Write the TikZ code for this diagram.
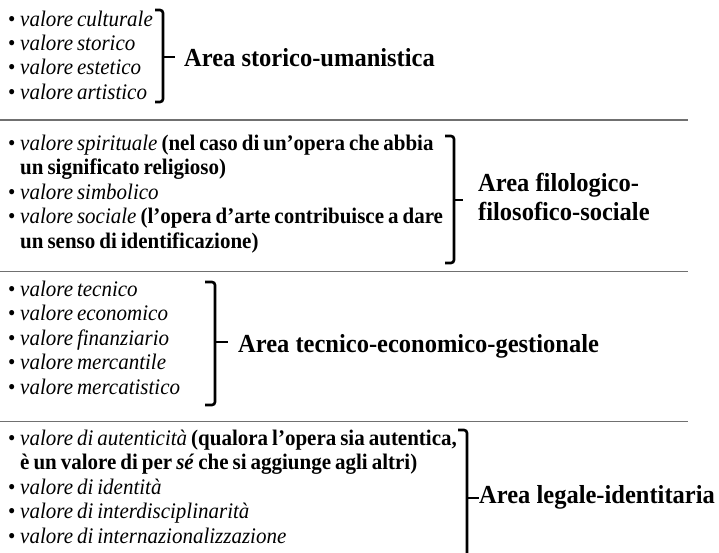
\documentclass[tikz,border=0pt]{standalone}
\usepackage{fontspec}
\setmainfont{Liberation Serif}
\definecolor{rulegray}{HTML}{707070}
\newcommand{\bul}{\makebox[12pt][l]{•}}
\newcommand{\tightsp}{\spaceskip=0.19em plus 0.05em minus 0.02em\relax}
\newcommand{\tallx}[1]{\scalebox{1}[1.06]{\tightsp#1}}
\tikzset{
  itm/.style={anchor=mid west, inner sep=0pt, font=\fontsize{21}{25}\selectfont},
  lbl/.style={anchor=west, inner sep=0pt, align=left, font=\fontsize{24.5}{29}\selectfont\bfseries},
  seprule/.style={draw=rulegray, line width=1.5pt},
  brk/.style={line width=2.6pt, rounded corners=3pt}
}
\begin{document}
\begin{tikzpicture}[x=1pt,y=-1pt]
\useasboundingbox[fill=white] (0,0) rectangle (719,553);

% separators
\draw[seprule] (0,120) -- (688,120);
\draw[seprule] (0,271.5) -- (688,271.5);
\draw[seprule] (0,421.5) -- (688,421.5);

% section 1
\node[itm] (a1) at (8,24) {\tallx{\bul\textit{valore culturale}}};
\node[itm] (a2) at (8,48) {\tallx{\bul\textit{valore storico}}};
\node[itm] (a3) at (8,72.5) {\tallx{\bul\textit{valore estetico}}};
\node[itm] (a4) at (8,97) {\tallx{\bul\textit{valore artistico}}};
\draw[brk] (155,10) -- (163,10) -- (163,102) -- (155,102);
\draw[brk] (163,57) -- (175,57);
\node[lbl] (la) at (184,58) {\scalebox{1}[1.06]{Area storico-umanistica}};

% section 2
\node[itm] (b1) at (8,148) {\tallx{\bul\textit{valore spirituale} \textbf{(nel caso di un’opera che abbia}}};
\node[itm] (b2) at (20,172.5) {\tallx{\textbf{un significato religioso)}}};
\node[itm] (b3) at (8,197) {\tallx{\bul\textit{valore simbolico}}};
\node[itm] (b4) at (8,221.5) {\tallx{\bul\textit{valore sociale} \textbf{(l’opera d’arte contribuisce a dare}}};
\node[itm] (b5) at (20,246) {\tallx{\textbf{un senso di identificazione)}}};
\draw[brk] (445,136) -- (454,136) -- (454,263) -- (445,263);
\draw[brk] (454,200) -- (463,200);
\node[lbl] (lb) at (478,197) {\scalebox{1}[1.06]{Area filologico-}\\\scalebox{1}[1.06]{filosofico-sociale}};

% section 3
\node[itm] (c1) at (8,294) {\tallx{\bul\textit{valore tecnico}}};
\node[itm] (c2) at (8,318.5) {\tallx{\bul\textit{valore economico}}};
\node[itm] (c3) at (8,343) {\tallx{\bul\textit{valore finanziario}}};
\node[itm] (c4) at (8,367.5) {\tallx{\bul\textit{valore mercantile}}};
\node[itm] (c5) at (8,392) {\tallx{\bul\textit{valore mercatistico}}};
\draw[brk] (205,282) -- (215,282) -- (215,405) -- (205,405);
\draw[brk] (215,342) -- (228,342);
\node[lbl] (lc) at (238,346) {\scalebox{1}[1.06]{Area tecnico-economico-gestionale}};

% section 4
\node[itm] (d1) at (8,443) {\tallx{\bul\textit{valore di autenticità} \textbf{(qualora l’opera sia autentica,}}};
\node[itm] (d2) at (20,467.5) {\tallx{\textbf{è un valore di per \textit{sé} che si aggiunge agli altri)}}};
\node[itm] (d3) at (8,492) {\tallx{\bul\textit{valore di identità}}};
\node[itm] (d4) at (8,516.5) {\tallx{\bul\textit{valore di interdisciplinarità}}};
\node[itm] (d5) at (8,541) {\tallx{\bul\textit{valore di internazionalizzazione}}};
\draw[brk] (458,430) -- (467,430) -- (467,560);
\draw[brk] (467,498) -- (479,498);
\node[lbl] (ld) at (479,497) {\scalebox{1}[1.06]{Area legale-identitaria}};
\end{tikzpicture}
\end{document}
